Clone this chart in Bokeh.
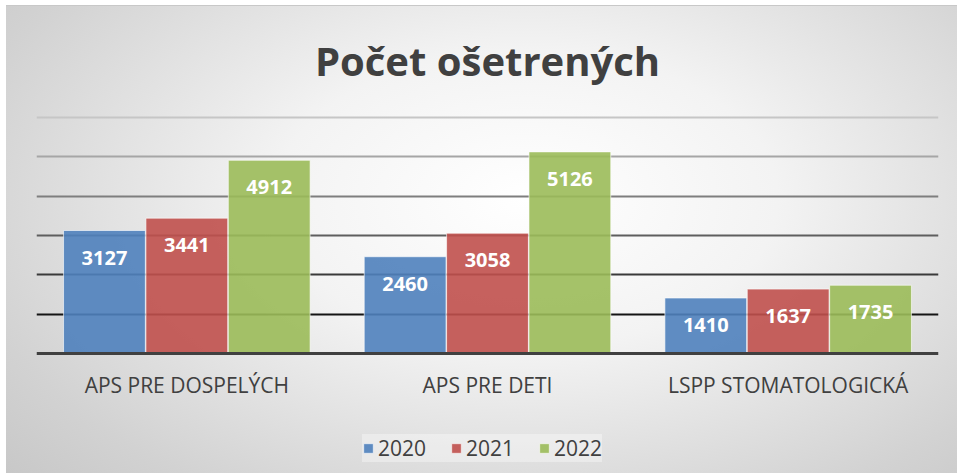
from bokeh.plotting import figure
from bokeh.models import (ColumnDataSource, FactorRange, Range1d, Grid, FixedTicker,
                          Legend, LegendItem, Title)
from bokeh.transform import dodge
from bokeh.core.properties import value
from bokeh.embed import file_html
from bokeh.resources import INLINE

categories = ["APS PRE DOSPELÝCH", "APS PRE DETI", "LSPP STOMATOLOGICKÁ"]
years = ["2020", "2021", "2022"]
v2020 = [3127, 2460, 1410]
v2021 = [3441, 3058, 1637]
v2022 = [4912, 5126, 1735]
colors = ["#4F81BD", "#C0504D", "#9BBB59"]
grid_ticks = [1000, 2000, 3000, 4000, 5000, 6000]
grid_colors = ["#141414", "#3a3a3a", "#5e5e5e", "#7e7e7e", "#a6a6a6", "#c6c6c6"]

src = ColumnDataSource(dict(cat=categories, y2020=v2020, y2021=v2021, y2022=v2022,
                            t2020=[str(v) for v in v2020],
                            t2021=[str(v) for v in v2021],
                            t2022=[str(v) for v in v2022]))

p = figure(width=957, height=473, x_range=FactorRange(*categories, range_padding=0),
           y_range=Range1d(-3051, 6051), output_backend="svg", toolbar_location=None,
           min_border_left=36, min_border_right=19, min_border_top=115, min_border_bottom=0)
p.border_fill_color = None
p.background_fill_color = None
p.outline_line_color = None
p.styles = {"background": ("linear-gradient(#ffffff, #ffffff) left top / 100% 5px no-repeat, "
                           "linear-gradient(#ffffff, #ffffff) left top / 6px 100% no-repeat, "
                           "linear-gradient(#c8c8c8, #c8c8c8) left 5px / 100% 1px no-repeat, "
                           "radial-gradient(ellipse 75% 90% at 55% 42%, #ffffff 0%, #f3f3f3 35%, #d2d2d2 80%, #c6c6c6 100%)")}

p.title = Title(text="Počet ošetrených", align="center", text_font="Open Sans",
                text_font_size="40px", text_font_style="bold", text_color="#404040",
                standoff=55)

p.xgrid.grid_line_color = None
p.ygrid.grid_line_color = None
for t, c in zip(grid_ticks, grid_colors):
    p.add_layout(Grid(dimension=1, ticker=FixedTicker(ticks=[t]), grid_line_color=c,
                      grid_line_width=2))

p.yaxis.visible = False
xa = p.xaxis[0]
xa.fixed_location = 0
xa.axis_line_color = "#404040"
xa.axis_line_width = 3
xa.major_tick_line_color = None
xa.minor_tick_line_color = None
xa.major_label_standoff = 12
xa.major_label_text_font = "Open Sans"
xa.major_label_text_font_size = "21px"
xa.major_label_text_color = "#404040"

offsets = [-0.274, 0.0, 0.274]
renderers = []
for yr, off, col in zip(years, offsets, colors):
    r = p.vbar(x=dodge("cat", off, range=p.x_range), top="y" + yr, width=0.272, source=src,
               fill_color=col, fill_alpha=0.9, line_color="#ffffff", line_alpha=0.6,
               line_width=1)
    renderers.append(r)
    p.text(x=dodge("cat", off, range=p.x_range), y="y" + yr, text="t" + yr, source=src,
           text_align="center", text_baseline="middle", y_offset=27,
           text_font=value("Open Sans"), text_font_style="bold", text_font_size="20px",
           text_color="white")

legend = Legend(items=[LegendItem(label=yr, renderers=[r]) for yr, r in zip(years, renderers)],
                orientation="horizontal", location=(326, 11),
                glyph_width=12, glyph_height=12, label_standoff=4, spacing=24,
                padding=9, margin=0,
                label_text_font="Open Sans", label_text_font_size="21px",
                label_text_color="#404040",
                background_fill_color="white", background_fill_alpha=0.35,
                border_line_color=None)
p.add_layout(legend, "center")

open("out.html", "w").write(file_html(p, INLINE))
